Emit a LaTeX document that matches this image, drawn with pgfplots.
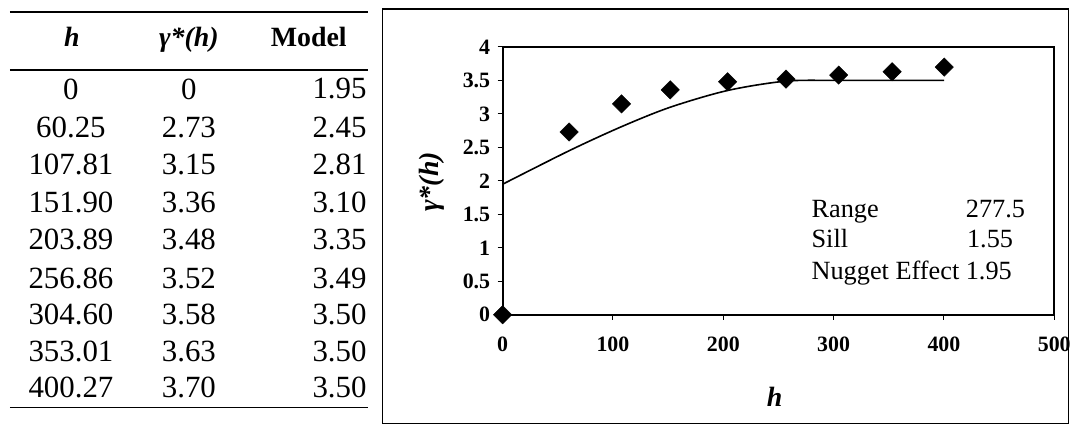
\documentclass[border=0pt]{standalone}
\usepackage{fontspec}
\setmainfont{Liberation Serif}
\usepackage{pgfplots}
\pgfplotsset{compat=1.18}
\begin{document}
\begin{tikzpicture}
\begin{scope}[x=1bp,y=1bp]
\path[use as bounding box] (0,0) rectangle (1074,427);
% table rules
\draw[line width=1.6bp] (10,415) -- (368,415);
\draw[line width=1.4bp] (10,357) -- (368,357);
\draw[line width=1.4bp] (10,19) -- (368,19);
% header
\node[anchor=base,inner sep=0] at (72,380) {\fontsize{28}{28}\selectfont\bfseries\itshape h};
\node[anchor=base,inner sep=0] at (189,380) {\fontsize{28}{28}\selectfont\bfseries\itshape γ*(h)};
\node[anchor=base,inner sep=0] at (309,380) {\fontsize{28}{28}\selectfont\bfseries Model};
% rows
\foreach \yy/\a/\b/\c in {338/0/0/1.95, 299/60.25/2.73/2.45, 262/107.81/3.15/2.81,
  224/151.90/3.36/3.10, 187/203.89/3.48/3.35, 148/256.86/3.52/3.49,
  112/304.60/3.58/3.50, 75/353.01/3.63/3.50, 39/400.27/3.70/3.50}{
  \node[anchor=center,inner sep=0] at (71,\yy) {\fontsize{31}{31}\selectfont \a};
  \node[anchor=center,inner sep=0] at (189,\yy) {\fontsize{31}{31}\selectfont \b};
  \node[anchor=east,inner sep=0] at (367,\yy) {\fontsize{31}{31}\selectfont \c};
}
% chart frame
\draw[line width=1.3bp] (383,3) rectangle (1069,418);
% text box
\node[anchor=base west,inner sep=0] at (812,209) {\fontsize{26.4}{26.4}\selectfont Range};
\node[anchor=base east,inner sep=0] at (1026,209) {\fontsize{26.4}{26.4}\selectfont 277.5};
\node[anchor=base west,inner sep=0] at (812,179) {\fontsize{26.4}{26.4}\selectfont Sill};
\node[anchor=base east,inner sep=0] at (1014,179) {\fontsize{26.4}{26.4}\selectfont 1.55};
\node[anchor=base west,inner sep=0] at (812,147) {\fontsize{26.4}{26.4}\selectfont Nugget Effect 1.95};
\end{scope}
\begin{axis}[
  at={(503bp,112bp)}, anchor=south west,
  scale only axis, width=552bp, height=268bp,
  xmin=0,xmax=500,ymin=0,ymax=4,
  xtick={0,100,200,300,400,500},
  ytick={0,0.5,1,1.5,2,2.5,3,3.5,4},
  xticklabels={0,100,200,300,400,500},
  yticklabels={0,0.5,1,1.5,2,2.5,3,3.5,4},
  tick align=outside, tick pos=left, major tick length=5bp,
  axis line style={line width=1.8bp},
  every tick/.style={line width=1bp, black},
  xticklabel style={font=\fontsize{22}{22}\selectfont\bfseries, yshift=-14bp},
  yticklabel style={font=\fontsize{22}{22}\selectfont\bfseries, xshift=-4bp},
  clip=false,
  xlabel={\textbf{\textit{h}}},
  xlabel style={at={(axis description cs:0.493,-0.306)},anchor=center,font=\fontsize{28}{28}\selectfont},
  ylabel={\textbf{\textit{γ*(h)}}},
  ylabel style={at={(axis description cs:-0.128,0.496)},anchor=center,font=\fontsize{28}{28}\selectfont},
]
\addplot[smooth, line width=1.6bp, black, no marks] coordinates {
  (0,1.95) (60.25,2.45) (107.81,2.81) (151.90,3.10) (203.89,3.35)
  (256.86,3.49) (304.60,3.50) (353.01,3.50) (400.27,3.50)};
\addplot[only marks, mark=square*, mark size=6.5bp, mark options={rotate=45, fill=black, draw=black}] coordinates {
  (0,0) (60.25,2.73) (107.81,3.15) (151.90,3.36) (203.89,3.48)
  (256.86,3.52) (304.60,3.58) (353.01,3.63) (400.27,3.70)};
\end{axis}
\end{tikzpicture}
\end{document}
